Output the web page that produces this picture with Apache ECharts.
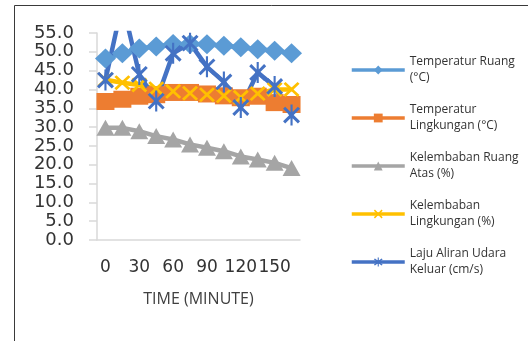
<!DOCTYPE html>
<html>
<head>
<meta charset="utf-8">
<script src="https://cdn.jsdelivr.net/npm/echarts@6/dist/echarts.min.js"></script>
<style>
  html, body { margin: 0; padding: 0; background: #fff; }
  #chart { width: 528px; height: 341px; }
</style>
</head>
<body>
<div id="chart"></div>
<script>
// Time axis (minutes)
const timeMinutes = ['0', '15', '30', '45', '60', '75', '90', '105', '120', '135', '150', '165'];

// Measured series
const temperaturRuang = [48.2, 49.6, 50.9, 51.4, 52.1, 52.1, 52.0, 51.6, 51.2, 50.7, 50.3, 49.6];
const temperaturLingkungan = [36.8, 37.4, 38.2, 38.6, 39.2, 39.2, 38.8, 38.3, 37.8, 38.2, 36.5, 36.0];
const kelembabanRuangAtas = [29.8, 29.8, 28.9, 27.6, 26.7, 25.4, 24.5, 23.6, 22.2, 21.4, 20.5, 19.1];
const kelembabanLingkungan = [42.6, 41.8, 41.2, 40.2, 39.5, 39.0, 38.6, 38.3, 37.9, 38.9, 40.0, 40.0];
const lajuAliranUdara = [42.5, 63.0, 44.0, 36.9, 49.6, 52.3, 46.0, 42.0, 35.2, 44.5, 40.8, 33.2];

const seriesNames = [
  'Temperatur Ruang (°C)',
  'Temperatur Lingkungan (°C)',
  'Kelembaban Ruang Atas (%)',
  'Kelembaban Lingkungan (%)',
  'Laju Aliran Udara Keluar (cm/s)'
];
const legendLabels = [
  'Temperatur Ruang\n(°C)',
  'Temperatur\nLingkungan (°C)',
  'Kelembaban Ruang\nAtas (%)',
  'Kelembaban\nLingkungan (%)',
  'Laju Aliran Udara\nKeluar (cm/s)'
];

// y-axis range and step
const yMin = 0, yMax = 55, yStep = 5;

const colors = ['#5B9BD5', '#ED7D31', '#A5A5A5', '#FFC000', '#4472C4'];

// Filled marker outlines: an "x" cross and an asterisk (x with a vertical bar)
const crossPath = 'path://M2,0L8,6L14,0L16,2L10,8L16,14L14,16L8,10L2,16L0,14L6,8L0,2Z';
const starPath = 'path://M2,2L8,8L14,2L16,4L10,10L16,16L14,18L8,12L2,18L0,16L6,10L0,4Z M7,0L9,0L9,20L7,20Z';

function lineSeries(name, data, color, symbol, symbolSize) {
  return {
    name: name,
    type: 'line',
    data: data,
    symbol: symbol,
    symbolSize: symbolSize,
    showAllSymbol: true,
    clip: true,
    lineStyle: { color: color, width: 4.5 },
    itemStyle: { color: color },
    emphasis: { disabled: true }
  };
}

const chart = echarts.init(document.getElementById('chart'), null, { renderer: 'canvas' });

chart.setOption({
  animation: false,
  backgroundColor: '#ffffff',
  color: colors,
  graphic: [{
    type: 'rect',
    shape: { x: 14.5, y: 5.5, width: 700, height: 500 },
    style: { fill: 'none', stroke: '#3a3a3a', lineWidth: 1 },
    silent: true,
    z: -1
  }],
  grid: { left: 97, right: 228, top: 33, bottom: 101, containLabel: false },
  legend: {
    orient: 'vertical',
    left: 350,
    top: 46,
    padding: 0,
    itemGap: 0,
    itemWidth: 53,
    itemHeight: 11,
    data: seriesNames,
    formatter: function (name) { return legendLabels[seriesNames.indexOf(name)]; },
    lineStyle: { width: 3.5 },
    textStyle: {
      fontFamily: 'Open Sans',
      fontSize: 12,
      color: '#333333',
      lineHeight: 16,
      padding: [16, 0, 0, 0]
    }
  },
  xAxis: {
    type: 'category',
    data: timeMinutes,
    boundaryGap: true,
    name: 'TIME (MINUTE)',
    nameLocation: 'middle',
    nameGap: 51,
    nameTextStyle: { fontFamily: 'Open Sans', fontSize: 16, color: '#404040' },
    axisLine: { lineStyle: { color: '#d9d9d9', width: 1.5 } },
    axisTick: { show: false },
    axisLabel: {
      interval: 1,
      hideOverlap: false,
      margin: 19,
      fontFamily: 'DejaVu Sans',
      fontSize: 17,
      color: '#333333'
    },
    splitLine: { show: false }
  },
  yAxis: {
    type: 'value',
    min: yMin,
    max: yMax,
    interval: yStep,
    axisLine: { show: true, lineStyle: { color: '#d9d9d9', width: 1.5 } },
    axisTick: { show: true, inside: false, length: 8, lineStyle: { color: '#d9d9d9', width: 1.5 } },
    axisLabel: {
      margin: 23,
      fontFamily: 'DejaVu Sans',
      fontSize: 18,
      color: '#333333',
      formatter: function (v) { return v.toFixed(1); }
    },
    splitLine: { show: false }
  },
  series: [
    lineSeries(seriesNames[0], temperaturRuang, colors[0], 'diamond', [21, 20]),
    lineSeries(seriesNames[1], temperaturLingkungan, colors[1], 'rect', [18, 17]),
    lineSeries(seriesNames[2], kelembabanRuangAtas, colors[2], 'triangle', [18, 16]),
    lineSeries(seriesNames[3], kelembabanLingkungan, colors[3], crossPath, [16, 15]),
    lineSeries(seriesNames[4], lajuAliranUdara, colors[4], starPath, [17, 21])
  ]
});
</script>
</body>
</html>
